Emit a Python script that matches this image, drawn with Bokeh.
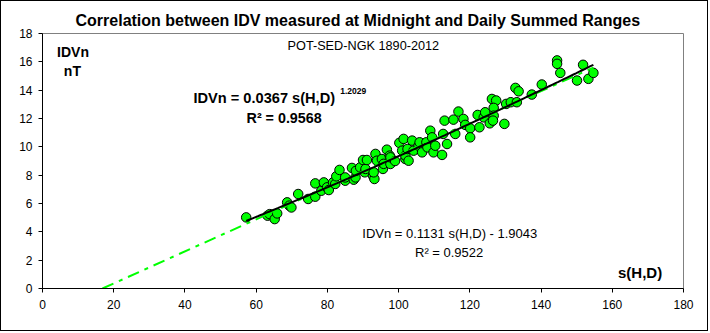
import numpy as np
from bokeh.plotting import figure
from bokeh.models import Range1d, Label, SingleIntervalTicker
from bokeh.embed import file_html
from bokeh.resources import INLINE

# ---- data ----
sh = [57.2, 63.2, 63.8, 65.2, 65.9, 68.7, 69.3, 69.9, 71.8, 74.6, 76.6, 76.6, 78.3, 79.0, 79.9,
      80.4, 81.6, 82.2, 82.5, 83.4, 85.0, 85.0, 86.9, 87.4, 87.9, 88.0, 89.2, 90.0, 90.5, 90.7,
      91.1, 92.8, 93.2, 93.0, 93.5, 93.9, 95.3, 95.6, 95.8, 96.7, 97.5, 97.7, 97.7, 99.0, 100.2,
      101.0, 101.4, 101.9, 101.9, 102.5, 102.8, 103.8, 104.2, 105.6, 105.9, 106.6, 107.8, 108.1,
      108.9, 109.4, 109.8, 110.3, 112.2, 112.5, 112.9, 113.6, 115.4, 115.9, 116.8, 118.2, 118.7,
      120.1, 120.1, 122.2, 122.7, 123.9, 124.3, 125.6, 126.2, 127.4, 126.7, 126.7, 126.5, 129.7,
      130.2, 131.5, 132.8, 133.7, 133.2, 137.4, 140.2, 144.5, 144.5, 145.4, 150.1, 151.8, 153.3,
      154.7]
idvn = [5.02, 5.14, 5.25, 4.90, 5.30, 6.08, 5.85, 5.72, 6.67, 6.32, 6.48, 7.42, 6.90, 7.49, 7.14,
        6.95, 7.49, 7.38, 7.92, 8.37, 7.61, 7.84, 8.51, 7.68, 7.84, 8.30, 8.55, 9.07, 8.20, 8.44,
        9.07, 7.96, 7.73, 8.20, 9.50, 9.02, 9.14, 8.44, 8.80, 9.80, 9.38, 8.79, 9.26, 9.00, 10.28,
        9.73, 10.56, 9.14, 9.38, 9.85, 9.02, 10.44, 9.73, 10.08, 10.32, 9.61, 10.32, 9.96,
        11.14, 10.67, 9.61, 10.08, 9.43, 10.91, 11.85, 10.20, 11.92, 10.91, 12.49, 11.97, 11.55,
        11.31, 10.67, 12.25, 11.38, 12.08, 12.44, 11.66, 13.38, 13.27, 12.75, 12.20, 11.85, 11.62,
        13.03, 13.15, 14.16, 13.92, 13.15, 13.69, 14.40, 16.10, 15.86, 15.22, 14.68, 15.79, 14.80,
        15.22]

# trend-line coefficients shown in the chart
pow_a, pow_b = 0.0367, 1.2029
lin_m, lin_c = 0.1131, -1.9043
x_ticks_interval = 20
y_ticks_interval = 2

FONT = "Liberation Sans"

p = figure(width=708, height=331, output_backend="svg", toolbar_location=None,
           x_range=Range1d(0, 180), y_range=Range1d(0, 18),
           min_border_left=41, min_border_right=26, min_border_top=32, min_border_bottom=44,
           background_fill_color="white", border_fill_color="white",
           styles={"border": "1px solid black"},
           title="Correlation between IDV measured at Midnight and Daily Summed Ranges")
p.title.text_font = FONT
p.title.text_font_size = "16px"
p.title.text_font_style = "bold"
p.title.align = "left"
p.title.offset = 33
p.title.standoff = 10
p.title.text_color = "black"

p.grid.visible = False
p.outline_line_color = "#808080"
p.outline_line_width = 1

for ax in (p.xaxis[0], p.yaxis[0]):
    ax.axis_line_color = "black"
    ax.major_tick_line_color = "black"
    ax.major_tick_out = 4
    ax.major_tick_in = 0
    ax.minor_tick_line_color = None
    ax.major_label_text_font = FONT
    ax.major_label_text_font_size = "12px"
    ax.major_label_text_color = "black"
p.xaxis[0].ticker = SingleIntervalTicker(interval=x_ticks_interval)
p.yaxis[0].ticker = SingleIntervalTicker(interval=y_ticks_interval)
p.xaxis[0].major_label_standoff = 7
p.yaxis[0].major_label_standoff = 6

# points
p.scatter(sh, idvn, size=9.5, fill_color="#00FF00", line_color="black", line_width=1)

# linear trend (green dash-dot)
x0 = -lin_c / lin_m
xl = np.array([x0, max(sh)])
p.line(xl, lin_m * xl + lin_c, line_color="#00FF00", line_width=2, line_dash="12 6 4 6")

# power trend (black)
xp = np.linspace(min(sh), max(sh), 120)
p.line(xp, pow_a * xp ** pow_b, line_color="black", line_width=2)

def lab(x, y, text, size, bold=False, align="left", baseline="middle"):
    p.add_layout(Label(x=x, y=y, text=text, text_font=FONT, text_font_size=size,
                       text_font_style="bold" if bold else "normal", text_color="black",
                       text_align=align, text_baseline=baseline))

lab(90.1, 17.15, "POT-SED-NGK 1890-2012", "12.7px", False, "center")
lab(8.56, 16.66, "IDVn", "14px", True, "center")
lab(8.4, 15.35, "nT", "14px", True, "center")
lab(42.4, 13.48, "IDVn = 0.0367 s(H,D)", "14.6px", True)
lab(83.6, 13.95, "1.2029", "8.5px", True)
lab(57.3, 12.06, "R² = 0.9568", "14.3px", True)
lab(89.8, 3.87, "IDVn = 0.1131 s(H,D) - 1.9043", "13px")
lab(104.6, 2.54, "R² = 0.9522", "13px")
lab(161.6, 1.13, "s(H,D)", "15px", True)

open("out.html", "w").write(file_html(p, INLINE))
